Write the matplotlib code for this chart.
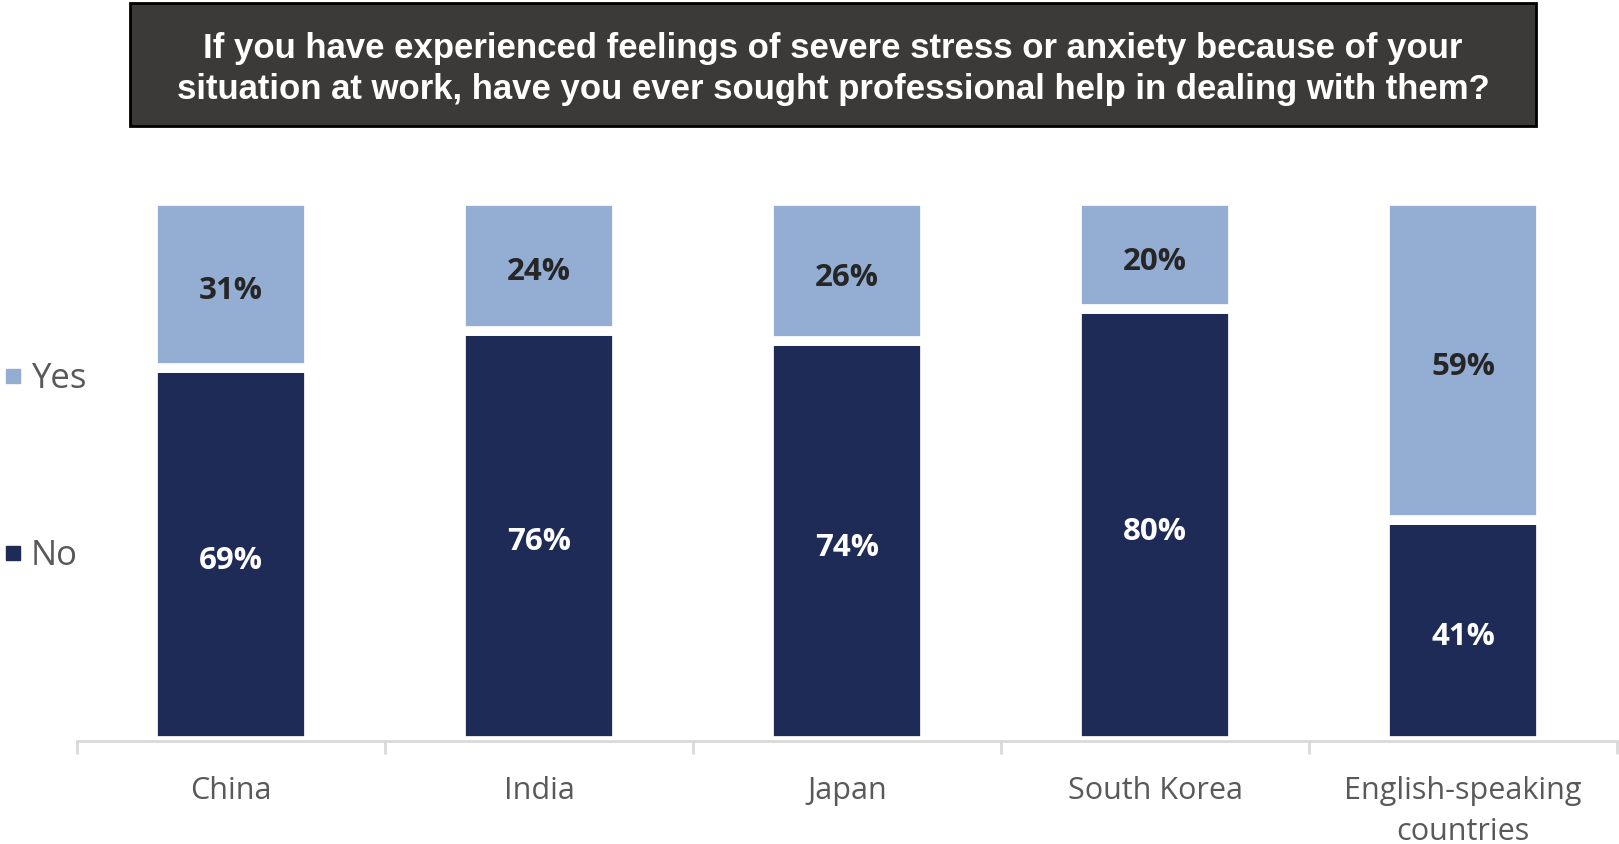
# Stacked 100% bars: sought professional help for work stress, by country
import numpy as np
import matplotlib
matplotlib.use('Agg')
import matplotlib.pyplot as plt
from matplotlib.patches import Rectangle

# ── Data ───────────────────────────────────────────────────────────────────────
categories = ['China', 'India', 'Japan', 'South Korea', 'English-speaking\ncountries']
no_pct     = [69, 76, 74, 80, 41]
yes_pct    = [31, 24, 26, 20, 59]
series     = ['Yes', 'No']
title_txt  = ('If you have experienced feelings of severe stress or anxiety because of your\n'
              'situation at work, have you ever sought professional help in dealing with them?')

C_YES  = '#94add3'
C_NO   = '#1e2b56'
C_GREY = '#595959'
W, H = 1619, 845

plt.rcParams['font.family'] = ['Open Sans', 'DejaVu Sans']
fig = plt.figure(figsize=(W / 100, H / 100), dpi=100)

# axes placed in pixel terms: x from 77 to 1617, y 0% at 742, 100% at 202
ax = fig.add_axes([77 / W, 1 - 742 / H, 1540 / W, 540 / H])
x = np.arange(len(categories))
bw = 0.505
ax.bar(x, no_pct, bw, color=C_NO, edgecolor='white', lw=7, clip_on=False, zorder=2)
ax.bar(x, yes_pct, bw, bottom=no_pct, color=C_YES, edgecolor='white', lw=7,
       clip_on=False, zorder=2)

lbl_kw = dict(ha='center', va='center', fontsize=22.5, fontweight='bold', zorder=3,
              xytext=(0, -4), textcoords='offset points')
for xi, n, y in zip(x, no_pct, yes_pct):
    ax.annotate(f'{n}%', (xi, n / 2), color='white', **lbl_kw)
    ax.annotate(f'{y}%', (xi, n + y / 2), color='#262626', **lbl_kw)

ax.set_xlim(-0.5, len(categories) - 0.5)
ax.set_ylim(0, 100)
for s in ['top', 'right', 'left']:
    ax.spines[s].set_visible(False)
ax.spines['bottom'].set_color('#d9d9d9')
ax.spines['bottom'].set_linewidth(2)
ax.spines['bottom'].set_zorder(4)
ax.set_yticks([])
ax.set_xticks(x)
ax.set_xticklabels(categories, fontsize=22, color=C_GREY, linespacing=1.47)
ax.tick_params(axis='x', which='major', length=0, pad=24.5)
ax.set_xticks(np.arange(-0.5, len(categories)), minor=True)
ax.tick_params(axis='x', which='minor', length=9, width=2, color='#d9d9d9')

# legend drawn at left, matching the far-apart entries
for name, col, yc in zip(series, [C_YES, C_NO], [377, 554]):
    fig.patches.append(Rectangle((6 / W, 1 - (yc + 7) / H), 14 / W, 14 / H,
                                 transform=fig.transFigure, color=col))
    fig.text(31 / W, 1 - (yc + 2) / H, name, ha='left', va='center',
             fontsize=25, color=C_GREY)

# title box
fig.patches.append(Rectangle((130 / W, 1 - 127 / H), 1406 / W, 123 / H,
                             transform=fig.transFigure, facecolor='#3b3a38',
                             edgecolor='black', lw=2))
fig.text(833 / W, 1 - 69 / H, title_txt, ha='center', va='center',
         fontsize=25, fontweight='bold', color='white',
         family=['Liberation Sans', 'DejaVu Sans'], linespacing=1.32)

fig.savefig('out.png', dpi=100)
